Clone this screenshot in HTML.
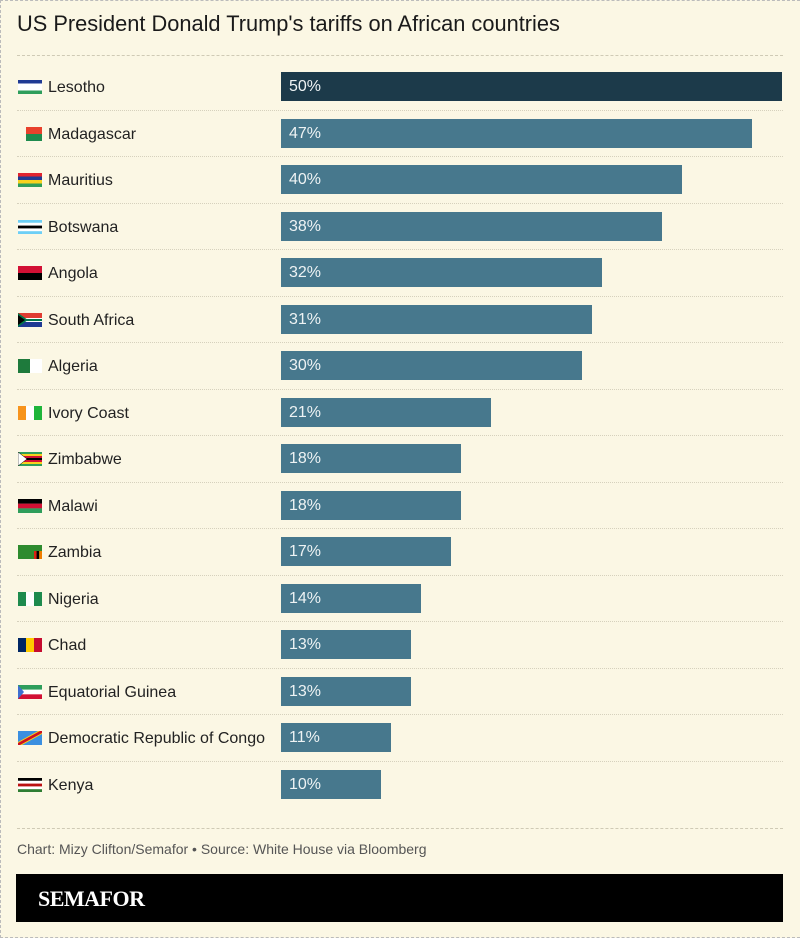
<!DOCTYPE html>
<html><head><meta charset="utf-8"><style>
body{margin:0;background:#fbf7e4;font-family:"Liberation Sans",sans-serif;}
#wrap{position:relative;width:800px;height:938px;overflow:hidden;box-sizing:border-box;border-left:1px dashed #bbb;border-bottom:1px dashed #bbb;border-top:1px dashed #bbb}
.t{position:absolute;left:16px;top:10px;font-size:21.8px;color:#1a1a1a}
.sep{position:absolute;left:16px;width:766px;border-top:1px dashed #cfcab5}
.rs{position:absolute;left:16px;width:766px;border-top:1px dotted #d6d1bd}
.lab{position:absolute;left:47px;font-size:16px;color:#222;line-height:20px}
.flag{position:absolute;left:17px;width:24px;height:14px}
.bar{position:absolute;left:280px;height:29px;color:#eef3f4;font-size:16px;line-height:29px;box-sizing:border-box;padding-left:8px}
.src{position:absolute;left:16px;top:840px;font-size:14px;color:#555}
.logo{position:absolute;left:15px;top:873px;width:767px;height:48px;background:#000}
.logo span{position:absolute;left:22px;top:12px;color:#fff;font-family:"Liberation Serif",serif;font-weight:bold;font-size:22px;letter-spacing:-0.5px}
</style></head><body>
<div id="wrap">
<div class="t">US President Donald Trump's tariffs on African countries</div>
<div class="sep" style="top:54px"></div>
<div id="rows"></div>
<div class="sep" style="top:827px"></div>
<div class="src">Chart: Mizy Clifton/Semafor • Source: White House via Bloomberg</div>
<div class="logo"><span>SEMAFOR</span></div>
</div>
<script>
const countries=["Lesotho","Madagascar","Mauritius","Botswana","Angola","South Africa","Algeria","Ivory Coast","Zimbabwe","Malawi","Zambia","Nigeria","Chad","Equatorial Guinea","Democratic Republic of Congo","Kenya"];
const tariffs=[50,47,40,38,32,31,30,21,18,18,17,14,13,13,11,10];
const flagH=[["#1f3a93","#fff","#fff","#2e9e5b"],null,["#e0242e","#1f3a93","#f6d21e","#2e9e5b"],["#6dcff6","#fff","#000","#fff","#6dcff6"],["#d21034","#000"],null,null,null,["#2e9e5b","#f6d21e","#d21034","#000","#d21034","#f6d21e","#2e9e5b"],["#000","#d21034","#2e9e5b"],["#2e8b2e"],null,null,["#2e9e5b","#fff","#d21034"],["#3b8fe0"],["#000","#fff","#bb1111","#fff","#2e7d32"]];
const flagV=[null,["#fff","#e8412c"],null,null,null,null,["#1e7a3c","#fff"],["#f7941d","#fff","#1eb53a"],null,null,null,["#1e8b4e","#fff","#1e8b4e"],["#002664","#fecb00","#c60c30"],null,null,null];
const x=v=>v*10.02, rowY=i=>71+i*46.5;
const rows=document.getElementById('rows');
countries.forEach((c,i)=>{
 const y=rowY(i);
 if(i>0){const s=document.createElement('div');s.className='rs';s.style.top=(y-9)+'px';
 
 rows.appendChild(s);}
 const f=document.createElementNS('http://www.w3.org/2000/svg','svg');
 f.setAttribute('class','flag');f.style.top=(y+8)+'px';f.setAttribute('viewBox','0 0 24 14');
 
 
 let h='';
 if(flagH[i]){const n=flagH[i].length;flagH[i].forEach((col,k)=>h+=`<rect x="0" y="${k*14/n}" width="24" height="${14/n+0.1}" fill="${col}"/>`);}
 else if(flagV[i]){const n=flagV[i].length;flagV[i].forEach((col,k)=>h+=`<rect x="${k*24/n}" y="0" width="${24/n+0.1}" height="14" fill="${col}"/>`);}
 if(c==="Madagascar")h=`<rect x="0" y="0" width="8" height="14" fill="#fbf7e4"/><rect x="8" y="0" width="16" height="7" fill="#e8412c"/><rect x="8" y="7" width="16" height="7" fill="#1e8b4e"/>`;
 if(c==="South Africa")h=`<rect width="24" height="7" fill="#e03c31"/><rect y="7" width="24" height="7" fill="#1f3a93"/><rect y="5" width="24" height="4" fill="#fff"/><rect y="6" width="24" height="2" fill="#007749"/><polygon points="0,0 10,7 0,14" fill="#007749"/><polygon points="0,2 7,7 0,12" fill="#000"/>`;
 if(c==="Democratic Republic of Congo")h+=`<polygon points="0,14 0,11 20,0 24,0 24,3 4,14" fill="#f7d618"/><polygon points="0,14 0,12 22,0 24,0 24,2 2,14" fill="#ce1021"/>`;
 if(c==="Equatorial Guinea")h+=`<polygon points="0,0 6,7 0,14" fill="#3e6fd1"/>`;
 if(c==="Zimbabwe")h+=`<polygon points="0,0 9,7 0,14" fill="#fff" stroke="#000" stroke-width="0.5"/>`;
 if(c==="Zambia")h+=`<rect x="16" y="6" width="2.6" height="8" fill="#de2010"/><rect x="18.6" y="6" width="2.6" height="8" fill="#000"/><rect x="21.2" y="6" width="2.8" height="8" fill="#ef7d00"/>`;
 f.innerHTML=h;rows.appendChild(f);
 const l=document.createElement('div');l.className='lab';l.style.top=(y+6)+'px';l.textContent=c;
 
 rows.appendChild(l);
 const b=document.createElement('div');b.className='bar';b.style.top=y+'px';b.style.width=x(tariffs[i])+'px';
 b.style.background=i===0?'#1c3a4a':'#47788d';b.textContent=tariffs[i]+'%';
 
 rows.appendChild(b);
});
</script>
</body></html>
